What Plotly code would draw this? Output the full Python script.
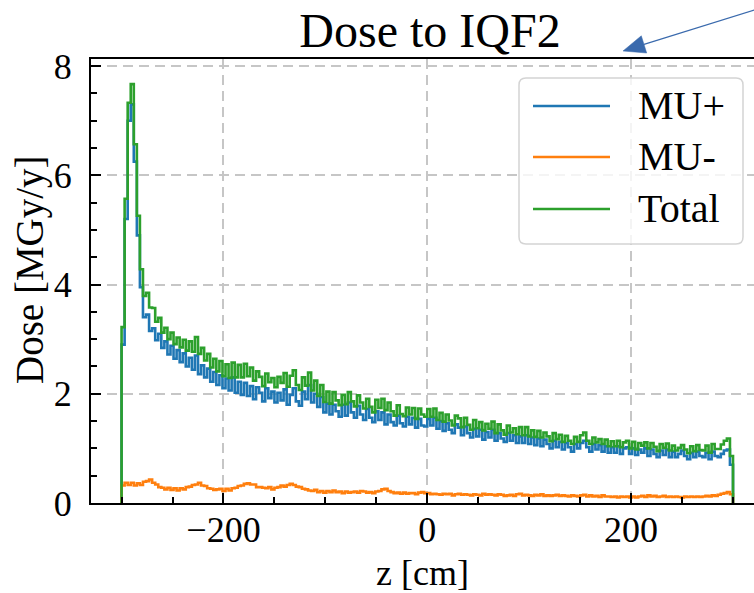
import numpy as np
import plotly.graph_objects as go

# 200 bins of 3 cm between z = -300 cm and z = +300 cm
z_edges = np.arange(-300, 301, 3)

# Dose per bin [MGy/y], from positive muons
mu_plus = [
    2.90, 5.20, 7.00, 7.30, 6.25, 4.90, 3.95, 3.40, 3.45, 3.15,
    3.20, 2.98, 3.10, 2.84, 2.96, 2.72, 2.88, 2.64, 2.80, 2.58,
    2.74, 2.50, 2.66, 2.44, 2.70, 2.36, 2.52, 2.30, 2.46, 2.22,
    2.40, 2.16, 2.34, 2.10, 2.28, 2.06, 2.30, 2.02, 2.22, 1.98,
    2.20, 1.96, 2.14, 1.90, 2.12, 2.02, 1.86, 2.10, 1.92, 2.04,
    1.84, 2.02, 1.88, 2.08, 1.80, 1.98, 2.10, 1.86, 1.78, 2.04,
    1.90, 2.16, 1.84, 2.00, 1.76, 1.94, 1.66, 1.82, 1.62, 1.80,
    1.68, 1.58, 1.80, 1.60, 1.84, 1.66, 1.56, 1.78, 1.62, 1.52,
    1.72, 1.56, 1.48, 1.68, 1.52, 1.66, 1.44, 1.62, 1.48, 1.42,
    1.60, 1.46, 1.40, 1.58, 1.44, 1.56, 1.38, 1.54, 1.42, 1.40,
    1.54, 1.42, 1.56, 1.36, 1.50, 1.32, 1.46, 1.34, 1.28, 1.44,
    1.38, 1.24, 1.40, 1.28, 1.20, 1.36, 1.22, 1.34, 1.16, 1.30,
    1.20, 1.34, 1.14, 1.28, 1.18, 1.12, 1.28, 1.14, 1.24, 1.10,
    1.22, 1.10, 1.24, 1.08, 1.20, 1.06, 1.18, 1.04, 1.16, 1.08,
    1.00, 1.14, 1.02, 1.12, 0.98, 1.10, 1.02, 0.94, 1.08, 1.00,
    1.10, 1.14, 1.02, 0.94, 1.08, 0.98, 1.06, 0.94, 1.04, 0.92,
    1.02, 0.92, 1.04, 0.90, 1.00, 1.02, 0.90, 1.00, 0.88, 0.98,
    0.92, 1.00, 0.86, 0.98, 0.90, 0.84, 0.96, 0.88, 0.98, 0.84,
    0.94, 0.84, 0.90, 0.96, 0.86, 0.80, 0.92, 0.84, 0.94, 0.86,
    0.84, 0.92, 0.80, 0.94, 0.86, 0.84, 0.90, 0.96, 0.98, 0.70,
]

# Dose per bin [MGy/y], from negative muons
mu_minus = [
    0.32, 0.37, 0.33, 0.37, 0.32, 0.36, 0.33, 0.39, 0.40, 0.43,
    0.37, 0.34, 0.29, 0.28, 0.25, 0.28, 0.24, 0.27, 0.23, 0.27,
    0.25, 0.29, 0.30, 0.33, 0.34, 0.37, 0.32, 0.31, 0.27, 0.26,
    0.24, 0.25, 0.26, 0.22, 0.26, 0.23, 0.27, 0.28, 0.31, 0.32,
    0.35, 0.36, 0.34, 0.34, 0.29, 0.29, 0.28, 0.27, 0.29, 0.25,
    0.28, 0.29, 0.32, 0.30, 0.33, 0.35, 0.33, 0.30, 0.29, 0.26,
    0.25, 0.23, 0.22, 0.24, 0.20, 0.22, 0.19, 0.22, 0.20, 0.23,
    0.20, 0.21, 0.18, 0.21, 0.19, 0.20, 0.21, 0.19, 0.22, 0.21,
    0.19, 0.20, 0.18, 0.21, 0.22, 0.25, 0.26, 0.22, 0.20, 0.18,
    0.19, 0.17, 0.19, 0.17, 0.18, 0.18, 0.16, 0.19, 0.20, 0.18,
    0.18, 0.16, 0.17, 0.16, 0.15, 0.17, 0.16, 0.17, 0.14, 0.16,
    0.17, 0.15, 0.16, 0.15, 0.14, 0.16, 0.15, 0.14, 0.17, 0.15,
    0.16, 0.15, 0.14, 0.16, 0.15, 0.13, 0.14, 0.15, 0.13, 0.16,
    0.17, 0.14, 0.15, 0.14, 0.13, 0.15, 0.14, 0.16, 0.13, 0.14,
    0.13, 0.14, 0.15, 0.13, 0.14, 0.13, 0.12, 0.14, 0.13, 0.12,
    0.14, 0.15, 0.12, 0.14, 0.12, 0.13, 0.11, 0.14, 0.12, 0.12,
    0.11, 0.12, 0.10, 0.12, 0.11, 0.12, 0.10, 0.12, 0.10, 0.12,
    0.13, 0.11, 0.14, 0.12, 0.13, 0.11, 0.12, 0.13, 0.11, 0.12,
    0.11, 0.12, 0.11, 0.10, 0.12, 0.11, 0.12, 0.11, 0.12, 0.11,
    0.12, 0.13, 0.12, 0.14, 0.13, 0.15, 0.17, 0.18, 0.20, 0.16,
]

total = (np.array(mu_plus) + np.array(mu_minus)).tolist()

series = [
    ("MU+", mu_plus, "#1f77b4"),
    ("MU-", mu_minus, "#ff7f0e"),
    ("Total", total, "#2ca02c"),
]

FONT = "Liberation Serif"
W, H = 754, 593
ML, MR, MT, MB = 91, 0, 59, 90
PW, PH = W - ML - MR, H - MT - MB


def px(x):
    return (x - ML) / PW


def py(y):
    return (H - MB - y) / PH


def step_xy(values):
    # histogram outline: rise from zero at the first edge, fall to zero at the last
    xs = [z_edges[0]] + list(z_edges)
    ys = [0.0] + list(values) + [0.0]
    return xs, ys


fig = go.Figure()
for name, vals, color in series:
    xs, ys = step_xy(vals)
    fig.add_trace(go.Scatter(
        x=xs, y=ys, mode="lines", name=name,
        line=dict(color=color, width=2.6, shape="hv"),
        showlegend=False, hoverinfo="skip",
    ))

axis_common = dict(
    showline=True, linecolor="black", linewidth=2,
    ticks="inside", ticklen=10, tickwidth=2, tickcolor="black",
    showgrid=True, gridcolor="#c6c6c6", gridwidth=2, griddash="10px,6px",
    zeroline=False,
    tickfont=dict(family=FONT, size=36, color="black"),
)

fig.update_xaxes(
    **axis_common,
    range=[-330, 320.6], tick0=0, dtick=200, mirror=True,
    minor=dict(ticks="inside", dtick=50, tick0=0, ticklen=6,
               tickwidth=1.5, tickcolor="black", showgrid=False),
    ticklabelstandoff=-6,
    title=dict(text="z [cm]", font=dict(family=FONT, size=36, color="black"),
               standoff=14),
)
fig.update_yaxes(
    **axis_common,
    range=[0, 8.13], tick0=0, dtick=2, mirror=False,
    minor=dict(ticks="inside", dtick=0.5, tick0=0, ticklen=6,
               tickwidth=1.5, tickcolor="black", showgrid=False),
    ticklabelstandoff=10,
)

# legend box with rounded corners
x0, x1 = px(519), px(743)
y0, y1 = py(244), py(78)
rx, ry = 7 / PW, 7 / PH
box = (f"M {x0+rx},{y0} L {x1-rx},{y0} Q {x1},{y0} {x1},{y0+ry} "
       f"L {x1},{y1-ry} Q {x1},{y1} {x1-rx},{y1} "
       f"L {x0+rx},{y1} Q {x0},{y1} {x0},{y1-ry} "
       f"L {x0},{y0+ry} Q {x0},{y0} {x0+rx},{y0} Z")
shapes = [dict(type="path", path=box, xref="paper", yref="paper",
               fillcolor="rgba(255,255,255,0.8)",
               line=dict(color="#d4d4d4", width=1.5), layer="above")]
annotations = []
for (name, _, color), row_y in zip(series, [106, 157, 209]):
    shapes.append(dict(type="line", xref="paper", yref="paper",
                       x0=px(533), x1=px(610), y0=py(row_y), y1=py(row_y),
                       line=dict(color=color, width=2.5), layer="above"))
    annotations.append(dict(text=name, xref="paper", yref="paper",
                            x=px(636), y=py(row_y - 1), xanchor="left", yanchor="middle",
                            showarrow=False,
                            font=dict(family=FONT, size=40, color="black")))

# y-axis title
annotations.append(dict(text="Dose [MGy/y]", xref="paper", yref="paper",
                        x=px(30), y=py(270), xanchor="center", yanchor="middle",
                        textangle=-90, showarrow=False,
                        font=dict(family=FONT, size=39, color="black")))

# pointer arrow entering from the top-right corner
ARROW = "#3a6aad"
shapes.append(dict(type="line", xref="paper", yref="paper",
                   x0=px(756), y0=py(9.5), x1=px(644), y1=py(44.4),
                   line=dict(color=ARROW, width=1.2), layer="above"))
shapes.append(dict(type="path", xref="paper", yref="paper",
                   path=f"M {px(623)},{py(51)} L {px(641.3)},{py(35.8)} "
                        f"L {px(646.7)},{py(53)} Z",
                   fillcolor=ARROW, line=dict(color=ARROW, width=0.5), layer="above"))

fig.update_layout(
    width=W, height=H,
    margin=dict(l=ML, r=MR, t=MT, b=MB, pad=0),
    paper_bgcolor="white", plot_bgcolor="white",
    title=dict(text="Dose to IQF2", xref="paper", x=px(430), xanchor="center",
               yref="container", y=1 - 30 / H, yanchor="middle",
               font=dict(family=FONT, size=48, color="black")),
    shapes=shapes, annotations=annotations,
    showlegend=False,
)

fig.write_html("out.html")
